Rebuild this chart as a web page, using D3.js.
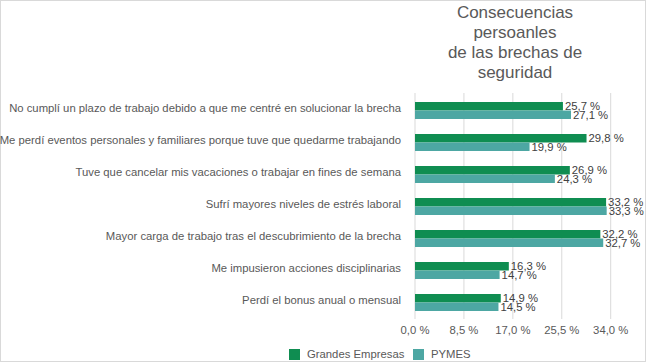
<!DOCTYPE html>
<html>
<head>
<meta charset="utf-8">
<script src="https://cdn.jsdelivr.net/npm/d3@7"></script>
<style>
  body { margin: 0; background: #fff; }
  text { font-family: "Liberation Sans", Arial, sans-serif; }
</style>
</head>
<body>
<div id="chart"></div>
<script>
// chart data
const categories = [
  "No cumplí un plazo de trabajo debido a que me centré en solucionar la brecha",
  "Me perdí eventos personales y familiares porque tuve que quedarme trabajando",
  "Tuve que cancelar mis vacaciones o trabajar en fines de semana",
  "Sufrí mayores niveles de estrés laboral",
  "Mayor carga de trabajo tras el descubrimiento de la brecha",
  "Me impusieron acciones disciplinarias",
  "Perdí el bonus anual o mensual"
]
const seriesNames = ["Grandes Empresas", "PYMES"]
const grandes = [25.7, 29.8, 26.9, 33.2, 32.2, 16.3, 14.9]
const pymes = [27.1, 19.9, 24.3, 33.3, 32.7, 14.7, 14.5]
const ticks = [0, 8.5, 17, 25.5, 34]
const titleLines = ["Consecuencias", "persoanles", "de las brechas de", "seguridad"]

const width = 647
const height = 363
const colors = ["#0f8d51", "#4da7a3"]

const fmt = v => d3.format(".1f")(v).replace(".", ",") + " %"

const svg = d3.select("#chart").append("svg")
    .attr("width", width)
    .attr("height", height)

// outer border
svg.append("rect")
    .attr("x", 0.5).attr("y", 0.5)
    .attr("width", 645).attr("height", 361)
    .attr("fill", "#fff")
    .attr("stroke", "#d9d9d9")

// title
svg.append("g").selectAll("text")
    .data(titleLines)
    .join("text")
        .attr("x", 515)
        .attr("y", (d, i) => 18 + i * 20)
        .attr("text-anchor", "middle")
        .attr("font-size", 17)
        .attr("fill", "#595959")
        .text(d => d)

const x = d3.scaleLinear().domain([0, 34]).range([415, 610.7])
const y = d3.scaleBand().domain(categories).range([94.5, 318.5])
const ySub = d3.scaleBand().domain(seriesNames).range([7.5, 24.5])

// gridlines
svg.append("g")
    .selectAll("line")
    .data(ticks)
    .join("line")
        .attr("x1", d => x(d)).attr("x2", d => x(d))
        .attr("y1", 93).attr("y2", 319)
        .attr("stroke", "#d9d9d9")

// tick labels
svg.append("g")
    .selectAll("text")
    .data(ticks)
    .join("text")
        .attr("x", d => x(d))
        .attr("y", 334)
        .attr("text-anchor", "middle")
        .attr("font-size", 11.3)
        .attr("fill", "#595959")
        .text(d => fmt(d))

// category labels
svg.append("g")
    .selectAll("text")
    .data(categories)
    .join("text")
        .attr("x", 401)
        .attr("y", d => y(d) + y.bandwidth() / 2 - 2)
        .attr("dy", "0.35em")
        .attr("text-anchor", "end")
        .attr("font-size", 11.3)
        .attr("fill", "#595959")
        .text(d => d)

const rows = categories.map((c, i) => ({cat: c, values: [grandes[i], pymes[i]]}))

const groups = svg.append("g")
    .selectAll("g")
    .data(rows)
    .join("g")
        .attr("transform", d => `translate(0,${y(d.cat)})`)

groups.selectAll("rect")
    .data(d => d.values.map((v, j) => ({name: seriesNames[j], value: v, j: j})))
    .join("rect")
        .attr("x", x(0))
        .attr("y", d => ySub(d.name))
        .attr("width", d => x(d.value) - x(0))
        .attr("height", ySub.bandwidth())
        .attr("fill", d => colors[d.j])

groups.selectAll("text")
    .data(d => d.values.map((v, j) => ({name: seriesNames[j], value: v, j: j})))
    .join("text")
        .attr("x", d => x(d.value) + 2)
        .attr("y", d => ySub(d.name) + ySub.bandwidth() / 2)
        .attr("dy", "0.35em")
        .attr("font-size", 11.3)
        .attr("fill", "#404040")
        .text(d => fmt(d.value))

// legend
const legendX = [289, 413]
const legend = svg.append("g")
    .selectAll("g")
    .data(seriesNames)
    .join("g")
        .attr("transform", (d, i) => `translate(${legendX[i]},349)`)

legend.append("rect")
    .attr("width", 11).attr("height", 11)
    .attr("fill", (d, i) => colors[i])

legend.append("text")
    .attr("x", 18)
    .attr("y", 5.5)
    .attr("dy", "0.35em")
    .attr("font-size", 11.3)
    .attr("fill", "#595959")
    .text(d => d)
</script>
</body>
</html>
